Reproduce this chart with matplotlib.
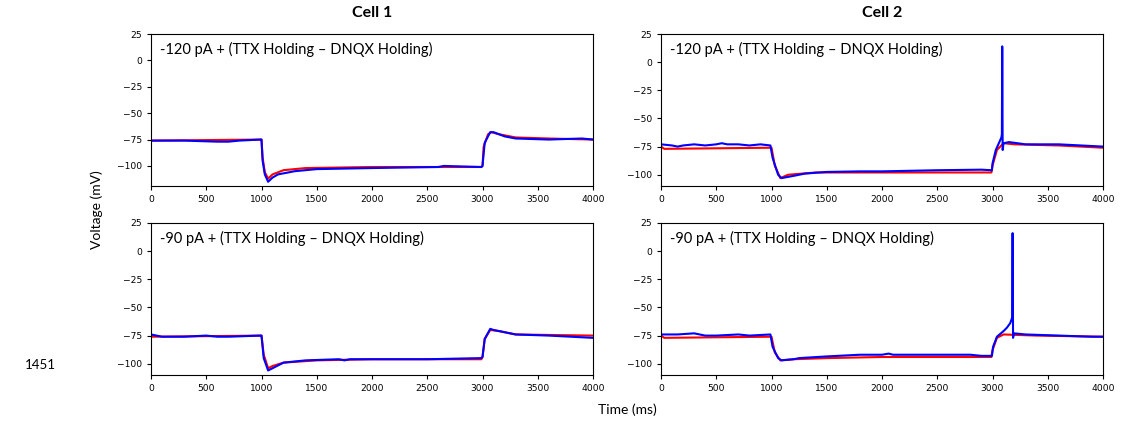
"""Cell 1 / Cell 2 voltage traces: red vs blue under two current steps."""

import matplotlib

matplotlib.use("Agg")
import matplotlib.pyplot as plt

TEXT_FONT = ["Lato", "DejaVu Sans"]

cell_titles = ["Cell 1", "Cell 2"]
step_labels = ["-120 pA + (TTX Holding \u2013 DNQX Holding)",
               "-90 pA + (TTX Holding \u2013 DNQX Holding)"]
x_ticks = [0, 500, 1000, 1500, 2000, 2500, 3000, 3500, 4000]
y_ticks = [-100, -75, -50, -25, 0, 25]
y_bottoms = [[-119, -110], [-110, -110]]

# cell 1, -120 pA
c1_120_red_t = [0, 1000, 1010, 1030, 1060, 1100, 1200, 1400, 2000, 2990, 3000, 3010, 3050, 3080,
                3150, 3300, 3600, 4000]
c1_120_red_v = [-76, -75, -92, -106, -112, -108, -104, -102, -101, -101, -100, -82, -70, -68,
                -70, -73, -74, -75]
c1_120_blue_t = [0, 100, 300, 600, 700, 800, 990, 1000, 1010, 1030, 1060, 1100, 1150, 1300, 1500,
                 2000, 2600, 2650, 2990, 3000, 3020, 3070, 3100, 3200, 3300, 3600, 3900, 4000]
c1_120_blue_v = [-76, -76, -76, -77, -77, -76, -75, -75, -95, -108, -115, -111, -108, -105, -103,
                 -102, -101, -100, -101, -100, -78, -68, -68, -72, -74, -75, -74, -75]

# cell 2, -120 pA
c2_120_red_t = [0, 30, 1000, 1030, 1080, 1150, 1400, 2000, 2990, 3000, 3040, 3100, 3200, 3600, 4000]
c2_120_red_v = [-75, -77, -76, -92, -103, -100, -98, -98, -98, -92, -78, -72, -73, -74, -76]
c2_120_blue_t = [0, 100, 150, 200, 300, 400, 500, 550, 600, 700, 800, 900, 990, 1010, 1060, 1090,
                 1200, 1300, 1500, 1800, 2000, 2500, 2900, 2995, 3000, 3030, 3080, 3085, 3088,
                 3092, 3100, 3150, 3300, 3600, 3800, 4000]
c2_120_blue_v = [-73, -74, -75, -74, -73, -74, -73, -72, -73, -73, -74, -73, -74, -85, -100, -103,
                 -101, -99, -97.5, -97, -97, -96, -95.5, -96, -90, -78, -67, -64, 14, -78, -72,
                 -71, -73, -73, -74, -75]

# cell 1, -90 pA
c1_90_red_t = [0, 1000, 1020, 1060, 1100, 1200, 1500, 2000, 2990, 3000, 3020, 3070, 3150, 3300, 4000]
c1_90_red_v = [-76, -75, -92, -104, -102, -99, -97, -96, -96, -94, -78, -70, -71, -74, -75]
c1_90_blue_t = [0, 100, 300, 500, 600, 700, 990, 1000, 1020, 1060, 1100, 1200, 1400, 1700, 1750,
                1800, 2500, 2990, 3000, 3020, 3070, 3100, 3300, 3600, 4000]
c1_90_blue_v = [-74, -76, -76, -75, -76, -76, -75, -75, -95, -106, -104, -99, -97, -96, -97,
                -96, -96, -95, -94, -78, -69, -70, -74, -75, -77]

# cell 2, -90 pA
c2_90_red_t = [0, 30, 1000, 1030, 1080, 1200, 1500, 2000, 2990, 3000, 3040, 3100, 3400, 4000]
c2_90_red_v = [-75, -77, -76, -90, -97, -96, -95, -94, -94, -88, -77, -74, -75, -76]
c2_90_blue_t = [0, 150, 300, 400, 500, 700, 800, 990, 1010, 1060, 1090, 1200, 1250, 1500, 1800,
                2000, 2060, 2100, 2500, 2800, 2900, 2995, 3005, 3040, 3100, 3130, 3160, 3178,
                3182, 3186, 3195, 3300, 3600, 3900, 4000]
c2_90_blue_v = [-74, -74, -73, -75, -75, -74, -75, -74, -85, -95, -97, -96, -95, -93.5, -92,
                -92, -91, -92, -92, -92, -93, -93, -85, -76, -71, -68, -64, -59, 16, -77, -73,
                -74, -75, -76, -76]

traces = [
    [(c1_120_red_t, c1_120_red_v, c1_120_blue_t, c1_120_blue_v),
     (c2_120_red_t, c2_120_red_v, c2_120_blue_t, c2_120_blue_v)],
    [(c1_90_red_t, c1_90_red_v, c1_90_blue_t, c1_90_blue_v),
     (c2_90_red_t, c2_90_red_v, c2_90_blue_t, c2_90_blue_v)],
]

W, H = 1131, 424
fig = plt.figure(figsize=(W / 100, H / 100), dpi=100)

lefts = [151, 661]
tops = [34, 223]
ax_w, ax_h = 442, 152

for r in range(2):
    for c in range(2):
        ax = fig.add_axes([lefts[c] / W, 1 - (tops[r] + ax_h) / H, ax_w / W, ax_h / H])
        rt, rv, bt, bv = traces[r][c]
        ax.plot(rt, rv, color="red", lw=1.5)
        ax.plot(bt, bv, color="blue", lw=1.5)
        ax.set_xlim(0, 4000)
        ax.set_ylim(y_bottoms[r][c], 25)
        ax.set_xticks(x_ticks)
        ax.set_yticks(y_ticks)
        ax.tick_params(labelsize=6.6, length=3, width=0.8)
        ax.text(0.02, 0.9, step_labels[r], transform=ax.transAxes, ha="left", va="center",
                fontsize=10.5, family=TEXT_FONT)
        if r == 0:
            ax.set_title(cell_titles[c], fontsize=11.5, fontweight="bold", family=TEXT_FONT, pad=12)

fig.text(97 / W, 1 - 210 / H, "Voltage (mV)", rotation=90, ha="center", va="center",
         fontsize=10, family=TEXT_FONT)
fig.text(627 / W, 1 - 410 / H, "Time (ms)", ha="center", va="center", fontsize=10, family=TEXT_FONT)
fig.text(40 / W, 1 - 365 / H, "1451", ha="center", va="center", fontsize=9.5, family=TEXT_FONT)

fig.savefig("out.png", dpi=100)
